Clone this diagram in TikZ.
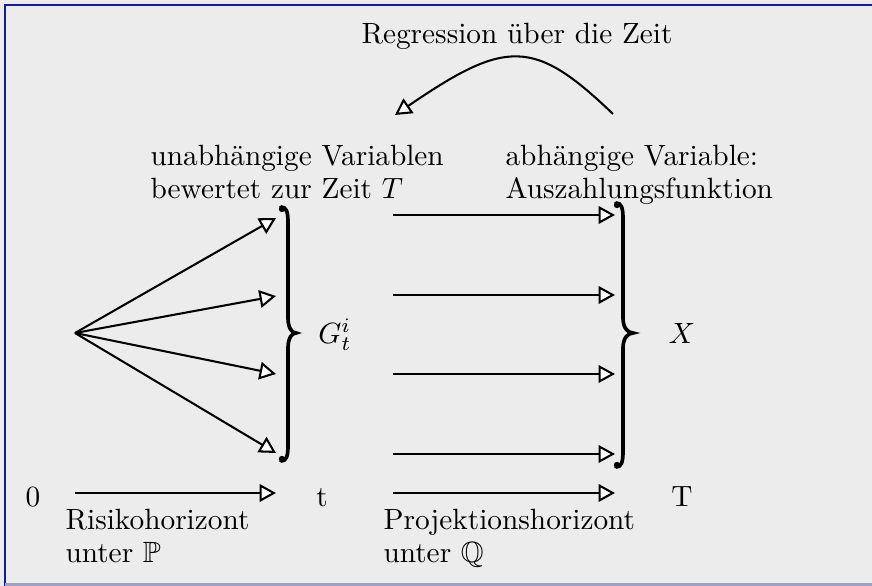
\documentclass[tikz,border=0pt]{standalone}
\usepackage{amssymb}
\usetikzlibrary{arrows.meta}
\definecolor{bgc}{HTML}{ECECEC}
\definecolor{framec}{HTML}{1818A0}
\definecolor{framelight}{HTML}{A0A0D0}
\tikzset{
  arr/.style={line width=0.7pt, -{Triangle[length=5.6pt,width=6pt,fill=white]}},
  lbl/.style={inner sep=0pt, anchor=base west, align=left},
  ctr/.style={inner sep=0pt, anchor=base},
  bracestyle/.style={line width=1.25pt, line cap=round},
}
\begin{document}
\begin{tikzpicture}[x=0.3413pt,y=-0.3413pt]
\useasboundingbox (0,0) rectangle (872,586);
\fill[bgc] (0,0) rectangle (872,586);
\draw[framec, line width=0.7pt] (5,586) -- (5,5) -- (872,5);
\draw[framelight, line width=0.7pt] (5,584.5) -- (872,584.5);

% title and curved arrow
\node[ctr] (title) at (517,44) {Regression über die Zeit};
\coordinate (cs) at (613,114);
\coordinate (ce) at (395,115);
\draw[arr] (cs) .. controls (534,38) and (506,39) .. (ce);

% headers
\node[lbl] (uv) at (150,199) {unabhängige Variablen\\[-0.7pt]bewertet zur Zeit $T$};
\node[lbl] (av) at (505,199) {abhängige Variable:\\[-0.7pt]Auszahlungsfunktion};

% fan
\coordinate (o) at (75,333);
\coordinate (f1) at (276,218);
\coordinate (f2) at (276,296);
\coordinate (f3) at (276,374);
\coordinate (f4) at (276,453);
\draw[arr] (o) -- (f1);
\draw[arr] (o) -- (f2);
\draw[arr] (o) -- (f3);
\draw[arr] (o) -- (f4);

% left brace
\draw[bracestyle] (281,207) .. controls (286,207) and (288,211) .. (288,222)
  -- (288,318) .. controls (288,328) and (292,333) .. (296,333)
  .. controls (292,333) and (288,338) .. (288,348)
  -- (288,446) .. controls (288,457) and (286,461) .. (281,461);
\fill (282,209) circle (3.2);
\fill (282,459) circle (3.2);
\node[inner sep=0pt] (G) at (335,335) {$G_t^i$};

% parallel arrows
\foreach \y/\n in {215/1,295/2,374/3,454/4}{
  \coordinate (ps\n) at (393,\y);
  \coordinate (pe\n) at (615,\y);
  \draw[arr] (ps\n) -- (pe\n);
}
% right brace
\draw[bracestyle] (616,203) .. controls (621,203) and (623,207) .. (623,218)
  -- (623,318) .. controls (623,328) and (628,333) .. (633,333)
  .. controls (628,333) and (623,338) .. (623,348)
  -- (623,452) .. controls (623,463) and (621,467) .. (616,467);
\fill (617,205) circle (3.2);
\fill (617,465) circle (3.2);
\node[inner sep=0pt] (X) at (682,333) {$X$};

% bottom time line
\node[ctr] (zero) at (33,507) {0};
\node[ctr] (tt) at (322,507) {t};
\node[ctr] (TT) at (682,507) {T};
\coordinate (a1s) at (75,493);
\coordinate (a1e) at (276,493);
\coordinate (a2s) at (393,493);
\coordinate (a2e) at (615,493);
\draw[arr] (a1s) -- (a1e);
\draw[arr] (a2s) -- (a2e);

\node[lbl] (risk) at (65,563) {Risikohorizont\\[-0.7pt]unter $\mathbb{P}$};
\node[lbl] (proj) at (383,563) {Projektionshorizont\\[-0.7pt]unter $\mathbb{Q}$};
\end{tikzpicture}
\end{document}
